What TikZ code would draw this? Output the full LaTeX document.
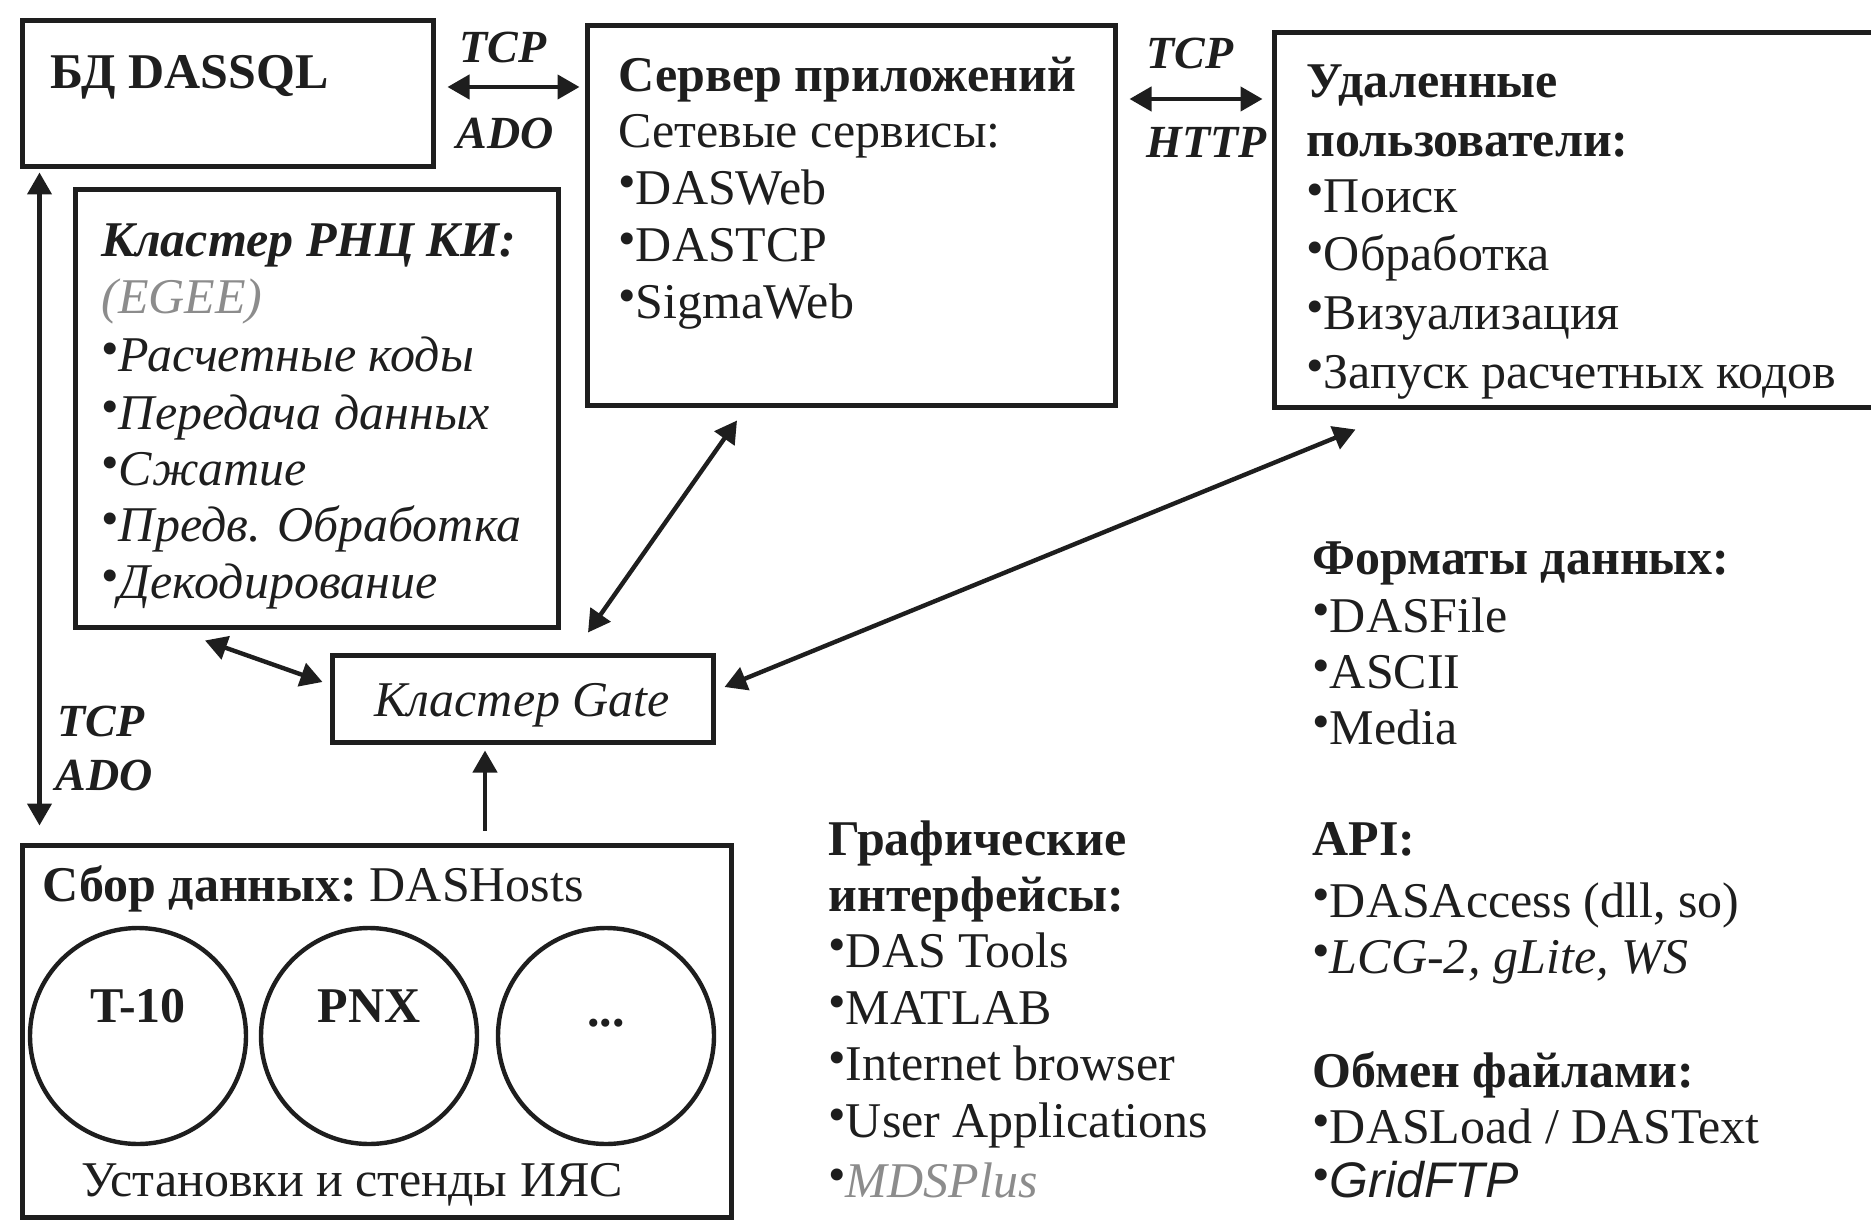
\documentclass[tikz,border=0pt]{standalone}
\usepackage{fontspec}
\setmainfont{Liberation Serif}
\newfontfamily\sansfam{Liberation Sans}
\usetikzlibrary{arrows.meta,fit,shapes.geometric}
\definecolor{ink}{HTML}{1E1E1E}
\definecolor{pale}{HTML}{8C8C8C}
\newcommand\bul{\raisebox{0.12em}{\upshape •}}
\begin{document}
\begin{tikzpicture}[x=0.5pt,y=-0.5pt,
  >={Triangle[length=11pt,width=12pt]},
  box/.style={draw=ink, line width=2.5pt, inner sep=0pt},
  txt/.style={inner sep=0pt, anchor=mid west, yshift=-6pt, text=ink, font=\fontsize{25}{28}\selectfont},
  ctxt/.style={txt, anchor=mid},
  lbl/.style={inner sep=0pt, anchor=mid west, yshift=-5pt, text=ink, font=\fontsize{23}{26}\selectfont\bfseries\itshape},
  arr/.style={draw=ink, line width=2.2pt},
  ring/.style={circle, draw=ink, line width=2.2pt, minimum size=108pt, inner sep=0pt}]
\useasboundingbox (0,0) rectangle (1871,1224);

% boxes
\node[box, fit={(22,21) (433,167)}] (db) {};
\node[box, fit={(587,26) (1115,406)}] (srv) {};
\node[box, fit={(1274,33) (1885,408)}] (rem) {};
\node[box, fit={(75,190) (558,627)}] (clu) {};
\node[box, fit={(332,655) (713,742)}] (gate) {};
\node[box, fit={(22,845) (731,1217)}] (col) {};

% circles
\node[ring] (c1) at (138,1036) {};
\node[ring] (c2) at (369,1036) {};
\node[ring] (c3) at (606,1036) {};

% DB text
\node[txt] (dbt) at (50,72) {\bfseries БД DASSQL};

% Server text
\node[txt] (s1) at (618,75) {\bfseries Сервер приложений};
\node[txt] (s2) at (618,131) {Сетевые сервисы:};
\node[txt] (s3) at (618,188) {\bul DASWeb};
\node[txt] (s4) at (618,245) {\bul DASTCP};
\node[txt] (s5) at (618,302) {\bul SigmaWeb};

% Remote users
\node[txt] (r1) at (1306,81) {\bfseries Удаленные};
\node[txt] (r2) at (1306,140) {\bfseries пользователи:};
\node[txt] (r3) at (1306,196) {\bul Поиск};
\node[txt] (r4) at (1306,254) {\bul Обработка};
\node[txt] (r5) at (1306,313) {\bul Визуализация};
\node[txt] (r6) at (1306,372) {\bul Запуск расчетных кодов};

% Cluster
\node[txt] (k1) at (101,240) {\bfseries\itshape Кластер РНЦ КИ:};
\node[txt, text=pale] (k2) at (101,297) {\itshape (EGEE)};
\node[txt] (k3) at (101,355) {\bul\itshape Расчетные коды};
\node[txt] (k4) at (101,413) {\bul\itshape Передача данных};
\node[txt] (k5) at (101,469) {\bul\itshape Сжатие};
\node[txt] (k6) at (101,525) {\bul\itshape Предв. Обработка};
\node[txt] (k7) at (101,582) {\bul\itshape Декодирование};

% Gate text
\node[ctxt] (gt) at (522,700) {\itshape Кластер Gate};

% Collection text
\node[txt] (ct) at (42,885) {\bfseries Сбор данных:\mdseries\ DASHosts};
\node[ctxt] (t1) at (138,1006) {\bfseries T-10};
\node[ctxt] (t2) at (369,1006) {\bfseries PNX};
\node[ctxt] (t3) at (606,1010) {\bfseries ...};
\node[ctxt] (ct2) at (352,1180) {Установки и стенды ИЯС};

% protocol labels
\node[lbl, anchor=mid] (p1) at (503,48) {TCP};
\node[lbl, anchor=mid] (p2) at (505,134) {ADO};
\node[lbl] (p3) at (1146,54) {TCP};
\node[lbl] (p4) at (1146,143) {HTTP};
\node[lbl] (p5) at (57,722) {TCP};
\node[lbl] (p6) at (55,776) {ADO};

% formats
\node[txt] (f1) at (1312,558) {\bfseries Форматы данных:};
\node[txt] (f2) at (1312,616) {\bul DASFile};
\node[txt] (f3) at (1312,672) {\bul ASCII};
\node[txt] (f4) at (1312,728) {\bul Media};

% graphics
\node[txt] (g1) at (828,839) {\bfseries Графические};
\node[txt] (g2) at (828,895) {\bfseries интерфейсы:};
\node[txt] (g3) at (828,951) {\bul DAS Tools};
\node[txt] (g4) at (828,1008) {\bul MATLAB};
\node[txt] (g5) at (828,1064) {\bul Internet browser};
\node[txt] (g6) at (828,1121) {\bul User Applications};
\node[txt] (g7) at (828,1181) {\bul\textcolor{pale}{\itshape MDSPlus}};

% API
\node[txt] (a1) at (1312,839) {\bfseries API:};
\node[txt] (a2) at (1312,901) {\bul DASAccess (dll, so)};
\node[txt] (a3) at (1312,957) {\bul\itshape LCG-2, gLite, WS};
\node[txt] (a4) at (1312,1071) {\bfseries Обмен файлами:};
\node[txt] (a5) at (1312,1127) {\bul DASLoad / DASText};
\node[txt] (a6) at (1312,1181) {\bul\sansfam\itshape GridFTP};

% connectors
\draw[arr,<->] ([xshift=6pt,yshift=3.5pt]db.east) -- ([xshift=-2.5pt,yshift=64.5pt]srv.west);
\draw[arr,<->] ([xshift=6pt,yshift=58.5pt]srv.east) -- ([xshift=-4.5pt,yshift=60.75pt]rem.west);
\draw[arr,<->] ([xshift=10pt,yshift=-1.5pt]db.south west) -- ([xshift=10pt,yshift=8.5pt]col.north west);
\draw[arr,<->] ([xshift=-55.75pt,yshift=-5.5pt]clu.south) -- ([xshift=-3.5pt,yshift=8.25pt]gate.west);
\draw[arr,<->] ([xshift=32.75pt,yshift=10pt]gate.north) -- ([xshift=-57pt,yshift=-6pt]srv.south);
\draw[arr,<->] ([xshift=4.5pt,yshift=5.75pt]gate.east) -- ([xshift=42pt,yshift=-9.5pt]rem.south west);
\draw[arr,->] ([xshift=54.25pt,yshift=6pt]col.north) -- ([xshift=-18.75pt,yshift=-3pt]gate.south);
\end{tikzpicture}
\end{document}
